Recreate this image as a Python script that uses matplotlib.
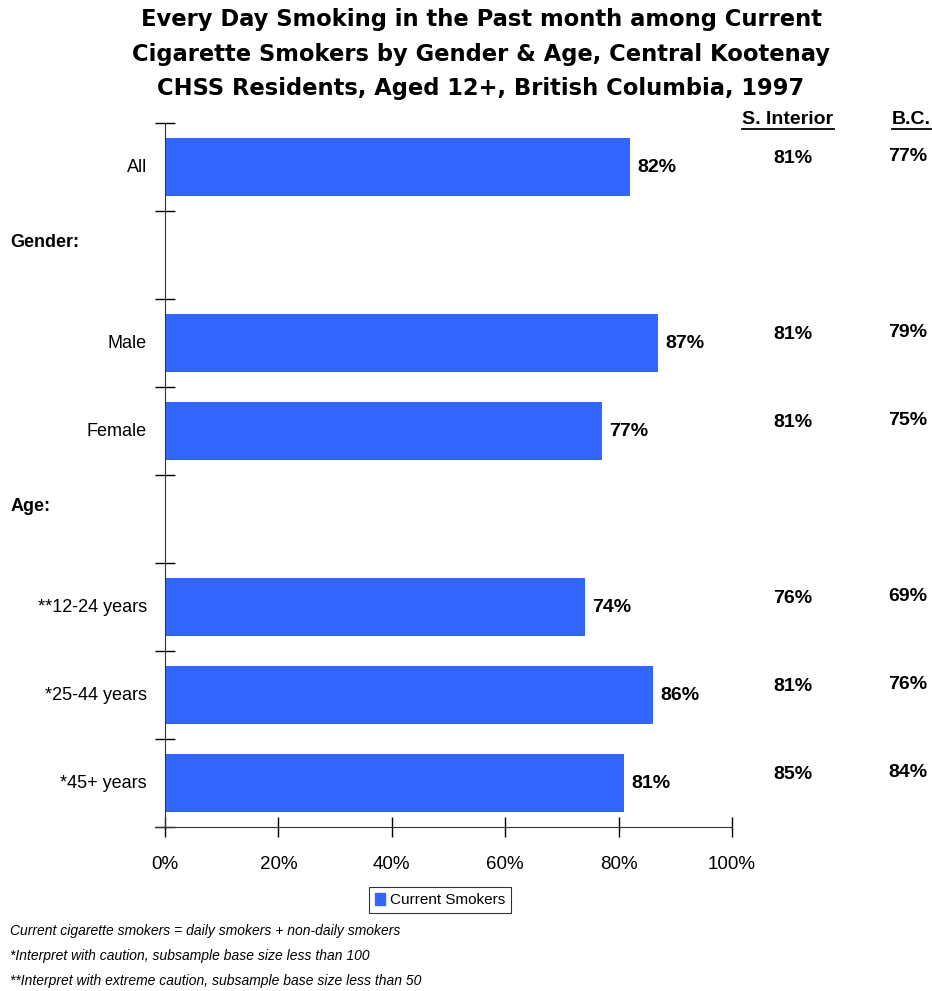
import matplotlib
matplotlib.use("Agg")
import matplotlib.pyplot as plt
from matplotlib.patches import Patch

categories = ['All', '', 'Male', 'Female', '', '**12-24 years', '*25-44 years', '*45+ years']
current_smokers = [82, None, 87, 77, None, 74, 86, 81]
s_interior = [81, None, 81, 81, None, 76, 81, 85]
bc = [77, None, 79, 75, None, 69, 76, 84]
group_labels = {1: 'Gender:', 4: 'Age:'}
x_ticks = [0, 20, 40, 60, 80, 100]

title = ("Every Day Smoking in the Past month among Current\n"
         "Cigarette Smokers by Gender & Age, Central Kootenay\n"
         "CHSS Residents, Aged 12+, British Columbia, 1997")
footnotes = ["Current cigarette smokers = daily smokers + non-daily smokers",
             "*Interpret with caution, subsample base size less than 100",
             "**Interpret with extreme caution, subsample base size less than 50"]

BLUE = '#3366FF'
W, H = 932, 991
plt.rcParams['font.family'] = ['Liberation Sans', 'DejaVu Sans']

fig = plt.figure(figsize=(W / 100, H / 100), dpi=100)
ax = fig.add_axes([165 / W, 1 - 827 / H, (732 - 165) / W, (827 - 123) / H])

n = len(categories)
for i, v in enumerate(current_smokers):
    if v is None:
        continue
    ax.barh(i + 0.5, v, height=0.66, color=BLUE, edgecolor='none')
    ax.text(v + 1.3, i + 0.5, f'{v}%', va='center', ha='left',
            fontsize=14, fontweight='bold')

ax.set_xlim(0, 100)
ax.set_ylim(n, 0)
ax.set_yticks(range(n + 1))
ax.set_yticklabels([])
ax.set_xticks(x_ticks)
ax.set_xticklabels([f'{t}%' for t in x_ticks], fontsize=13.5)
ax.tick_params(axis='y', direction='inout', length=14, width=1)
ax.tick_params(axis='x', direction='inout', length=14, width=1, pad=14)
for s in ['top', 'right']:
    ax.spines[s].set_visible(False)
ax.spines['left'].set_color('#333333')
ax.spines['bottom'].set_color('#333333')
ax.spines['bottom'].set_bounds(-1.8, 100)

# category labels
for i, c in enumerate(categories):
    if c:
        ax.text(-3.2, i + 0.5, c, ha='right', va='center', fontsize=13)
trans = ax.get_yaxis_transform()
for i, g in group_labels.items():
    ax.text(-0.273, i + 0.36, g, transform=trans, ha='left', va='center',
            fontsize=13, fontweight='bold')

# comparison columns
for i in range(n):
    if s_interior[i] is not None:
        ax.text(1.1076, i + 0.4, f'{s_interior[i]}%', transform=trans,
                ha='center', va='center', fontsize=14, fontweight='bold')
    if bc[i] is not None:
        ax.text(1.31, i + 0.38, f'{bc[i]}%', transform=trans,
                ha='center', va='center', fontsize=14, fontweight='bold')

hdrs = []
hdrs.append(fig.text(788 / W, 1 - 119 / H, 'S. Interior', ha='center', va='center',
                     fontsize=14, fontweight='bold'))
hdrs.append(fig.text(911 / W, 1 - 119 / H, 'B.C.', ha='center', va='center',
                     fontsize=14, fontweight='bold'))
fig.canvas.draw()
r = fig.canvas.get_renderer()
for h in hdrs:
    bb = h.get_window_extent(r)
    y = (bb.y0 - 1) / H
    fig.add_artist(plt.Line2D([bb.x0 / W, bb.x1 / W], [y, y], color='black', lw=1.3))

fig.text(481 / W, 1 - 54 / H, title, ha='center', va='center', fontsize=16.3,
         fontweight='bold', linespacing=1.62, family=['DejaVu Sans'])

leg = fig.legend(handles=[Patch(color=BLUE, label='Current Smokers')],
                 loc='center', bbox_to_anchor=(440 / W, 1 - 900 / H),
                 fontsize=11, frameon=True, fancybox=False, edgecolor='black',
                 handlelength=0.7, handleheight=0.9, handletextpad=0.3,
                 borderpad=0.4)
leg.get_frame().set_linewidth(0.8)

for k, t in enumerate(footnotes):
    fig.text(10 / W, 1 - (931 + 25 * k) / H, t, ha='left', va='center',
             fontsize=10, style='italic')

fig.savefig('out.png', dpi=100)
